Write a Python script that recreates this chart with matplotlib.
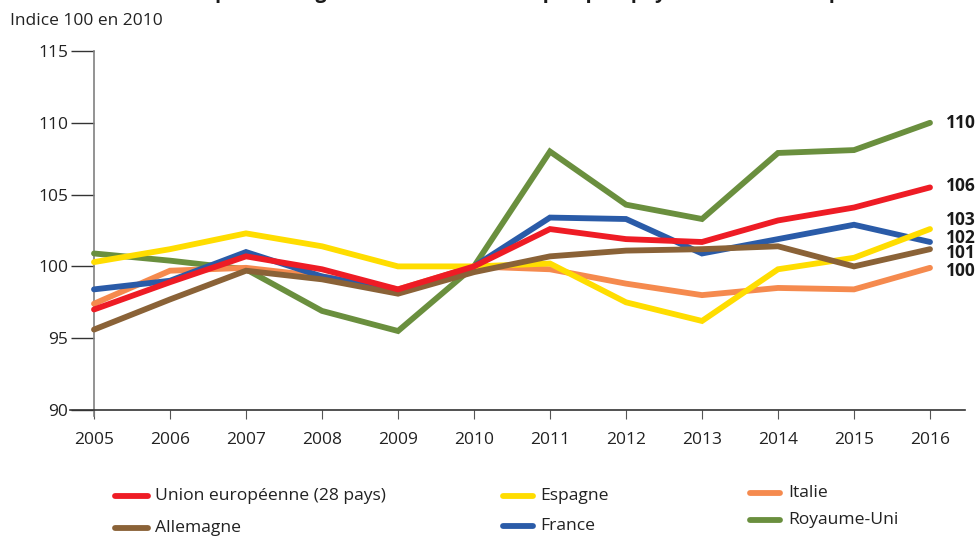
import matplotlib
matplotlib.use("Agg")
import matplotlib.pyplot as plt
from matplotlib.lines import Line2D

plt.rcParams['font.family'] = ['Open Sans', 'DejaVu Sans']

years = [2005, 2006, 2007, 2008, 2009, 2010, 2011, 2012, 2013, 2014, 2015, 2016]

ue        = [97.0, 98.9, 100.7, 99.8, 98.4, 100.0, 102.6, 101.9, 101.7, 103.2, 104.1, 105.5]
espagne   = [100.3, 101.2, 102.3, 101.4, 100.0, 100.0, 100.2, 97.5, 96.2, 99.8, 100.6, 102.6]
italie    = [97.4, 99.7, 99.9, 99.3, 98.4, 100.0, 99.8, 98.8, 98.0, 98.5, 98.4, 99.9]
allemagne = [95.6, 97.7, 99.7, 99.1, 98.1, 99.6, 100.7, 101.1, 101.2, 101.4, 100.0, 101.2]
france    = [98.4, 99.0, 101.0, 99.3, 98.3, 100.0, 103.4, 103.3, 100.9, 101.9, 102.9, 101.7]
royaume_uni = [100.9, 100.4, 99.8, 96.9, 95.5, 100.0, 108.0, 104.3, 103.3, 107.9, 108.1, 110.0]

end_labels = ["110", "106", "103", "102", "101", "100"]
end_label_y = [110.0, 105.6, 103.2, 102.0, 100.9, 99.7]

yticks = [90, 95, 100, 105, 110, 115]

colors = {
    'ue': '#EE1C25', 'espagne': '#FFDD00', 'italie': '#F58A4E',
    'allemagne': '#8A6237', 'france': '#2A5BA8', 'ru': '#6A8F3E',
}

fig = plt.figure(figsize=(9.76, 5.36), dpi=100)
ax = fig.add_axes([70/976, 1-410/536, (965-70)/976, (410-51)/536])

lw = 4.2
series = [
    (royaume_uni, colors['ru'], 'Royaume-Uni'),
    (italie, colors['italie'], 'Italie'),
    (france, colors['france'], 'France'),
    (espagne, colors['espagne'], 'Espagne'),
    (allemagne, colors['allemagne'], 'Allemagne'),
    (ue, colors['ue'], 'Union européenne (28 pays)'),
]
for vals, c, name in series:
    ax.plot(years, vals, color=c, lw=lw, solid_capstyle='round', solid_joinstyle='miter', zorder=3)

px_per_year = (930-94)/11
ax.set_xlim(2005 - 24/px_per_year, 2016 + 35/px_per_year)
ax.set_ylim(90, 115)
ax.spines['top'].set_visible(False)
ax.spines['right'].set_visible(False)
ax.spines['left'].set_position(('data', 2005))
ax.spines['left'].set_color('#808080')
ax.spines['left'].set_linewidth(1.2)
ax.spines['left'].set_bounds(89.6, 115)
ax.spines['bottom'].set_color('#333333')
ax.spines['bottom'].set_linewidth(1.2)

ax.set_yticks(yticks)
ax.set_yticklabels([str(t) for t in yticks])
ax.set_xticks(years)
ax.set_xticklabels([str(y) for y in years])
ax.tick_params(axis='y', direction='out', length=16.5, width=1.0, color='#333333',
               labelsize=12.5, labelcolor='#222222', pad=2)
ax.tick_params(axis='x', direction='out', length=6.5, width=0.8, color='#555555',
               labelsize=12.5, labelcolor='#222222', pad=9)
ax.patch.set_visible(False)

for lab, yv in zip(end_labels, end_label_y):
    ax.text(2016 + 16/px_per_year, yv, lab, fontsize=12.5, fontweight='bold',
            color='#1a1a1a', va='center', ha='left', clip_on=False)

fig.text(10/976, 1-21/536, "Indice 100 en 2010", fontsize=12.5, color='#222222',
         va='center', ha='left')

fig.text(490/976, 1+2/536, "Évolution des prix des logements anciens dans quelques pays de l’Union européenne",
         fontsize=14, fontweight='bold', color='#1a1a1a', ha='center', va='baseline')

# legend
legend_items = [
    ('Union européenne (28 pays)', colors['ue'], 115, 148, 155, 496),
    ('Allemagne', colors['allemagne'], 115, 148, 155, 528),
    ('Espagne', colors['espagne'], 503, 533, 540, 496),
    ('France', colors['france'], 503, 533, 540, 526),
    ('Italie', colors['italie'], 750, 780, 788, 493),
    ('Royaume-Uni', colors['ru'], 750, 780, 788, 520),
]
for name, c, x0, x1, xt, yp in legend_items:
    fy = 1 - yp/536
    fig.add_artist(Line2D([x0/976, x1/976], [fy, fy], color=c, lw=lw,
                          solid_capstyle='round', transform=fig.transFigure))
    fig.text(xt/976, fy, name, fontsize=12.6, color='#222222', va='center', ha='left')

fig.savefig('out.png', dpi=100)
